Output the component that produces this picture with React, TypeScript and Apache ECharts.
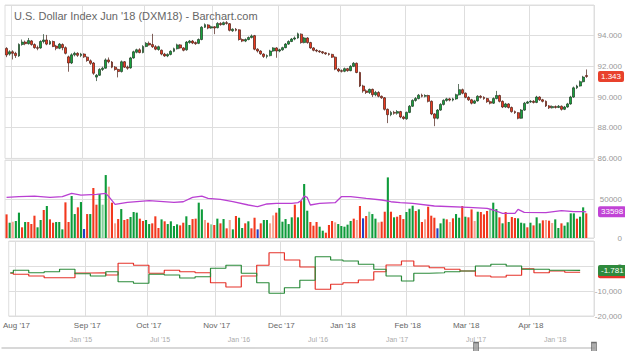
import React, { useEffect, useRef } from "react";
import * as echarts from "echarts";

// ---------- calendar ----------
const HOLIDAYS = ["2017-09-04", "2017-11-23", "2017-12-25", "2018-01-01", "2018-01-15", "2018-02-19", "2018-03-30"];
const FIRST_DAY = [2017, 6, 28];
const LAST_DAY = [2018, 3, 26];
const MONTHS = ["Jan", "Feb", "Mar", "Apr", "May", "Jun", "Jul", "Aug", "Sep", "Oct", "Nov", "Dec"];

function buildDays(): string[] {
  const out: string[] = [];
  const d = new Date(Date.UTC(FIRST_DAY[0], FIRST_DAY[1], FIRST_DAY[2]));
  const end = Date.UTC(LAST_DAY[0], LAST_DAY[1], LAST_DAY[2]);
  while (d.getTime() <= end) {
    const wd = d.getUTCDay();
    const s = d.toISOString().slice(0, 10);
    if (wd !== 0 && wd !== 6 && HOLIDAYS.indexOf(s) < 0) out.push(s);
    d.setUTCDate(d.getUTCDate() + 1);
  }
  return out;
}
const DAYS = buildDays();
const CATS = [...DAYS, " ", "  "];

// ---------- price: [open, close, low, high] ----------
const CANDLES: number[][] = [
  [93.17, 92.74, 92.6, 93.25], [92.8, 92.95, 92.7, 93.05], [92.95, 92.85, 92.45, 93.05], [92.85, 92.7, 92.55, 92.95],
  [92.68, 93.43, 92.62, 93.5], [93.43, 93.58, 93.35, 93.75], [93.58, 93.48, 93.38, 93.68], [93.48, 93.68, 93.42, 93.85],
  [93.66, 93.42, 93.35, 93.72], [93.42, 93.22, 93.15, 93.5], [93.22, 93.18, 93.05, 93.35], [93.2, 93.62, 93.15, 93.7],
  [93.62, 93.72, 93.5, 94.1], [93.72, 93.45, 93.38, 94.05], [93.45, 93.62, 93.4, 93.72], [93.62, 93.3, 93.25, 93.68],
  [93.32, 93.18, 93.05, 93.4], [93.18, 93.45, 93.12, 93.52], [93.42, 93.22, 93.05, 93.5], [93.22, 92.85, 92.78, 93.3],
  [92.62, 92.22, 91.65, 92.7], [92.22, 92.75, 92.15, 92.85], [92.75, 92.85, 92.65, 92.95], [92.85, 92.72, 92.62, 92.92],
  [92.7, 92.8, 92.6, 92.88], [92.8, 92.62, 92.55, 92.85], [92.6, 92.38, 92.3, 92.65], [92.36, 92.2, 92.1, 92.45],
  [92.22, 91.55, 91.45, 92.28], [91.3, 91.42, 91.04, 91.5], [91.42, 91.8, 91.38, 91.88], [91.8, 91.88, 91.7, 91.98],
  [91.88, 92.42, 91.85, 92.52], [92.42, 92.3, 92.2, 92.58], [92.28, 91.95, 91.88, 92.35], [91.95, 91.8, 91.72, 92.02],
  [91.8, 91.66, 91.28, 91.85], [91.66, 92.3, 91.6, 92.38], [92.3, 91.95, 91.9, 92.35], [91.95, 91.88, 91.78, 92.05],
  [91.9, 92.55, 91.85, 92.62], [92.55, 92.95, 92.5, 93.02], [92.92, 93.08, 92.85, 93.15], [93.08, 92.9, 92.85, 93.18],
  [92.9, 93.3, 92.85, 93.38], [93.3, 93.5, 93.25, 93.58], [93.5, 93.4, 93.35, 93.62], [93.42, 93.28, 93.2, 94.12],
  [93.28, 93.12, 93.05, 93.38], [93.1, 93.28, 93.02, 93.35], [93.05, 92.8, 92.72, 93.1], [92.8, 92.68, 92.62, 92.88],
  [92.68, 92.78, 92.6, 92.85], [92.78, 92.98, 92.72, 93.05], [92.98, 93.15, 92.92, 93.22], [93.15, 93.4, 93.1, 93.48],
  [93.4, 93.2, 93.15, 93.45], [93.2, 93.05, 92.98, 93.25], [93.08, 93.58, 93.02, 93.65], [93.55, 93.65, 93.48, 93.72],
  [93.65, 93.52, 93.45, 93.72], [93.55, 93.48, 93.4, 93.62], [93.5, 93.75, 93.45, 93.82], [93.75, 94.55, 93.7, 94.62],
  [94.55, 94.72, 94.5, 94.8], [94.7, 94.5, 94.42, 94.75], [94.5, 94.58, 94.45, 94.65], [94.58, 94.5, 94.1, 94.62],
  [94.52, 94.8, 94.48, 94.88], [94.8, 94.72, 94.65, 94.88], [94.72, 94.85, 94.68, 94.92], [94.85, 94.8, 94.72, 94.95],
  [94.78, 94.35, 94.28, 94.82], [94.32, 94.42, 94.25, 94.48], [94.42, 94.35, 94.28, 94.5], [94.38, 93.75, 93.68, 94.42],
  [93.75, 93.65, 93.58, 93.82], [93.65, 93.75, 93.58, 93.82], [93.75, 93.88, 93.7, 93.95], [93.88, 93.98, 93.82, 94.08],
  [94.0, 93.12, 93.05, 94.05], [93.12, 93.0, 92.9, 93.18], [93.0, 92.82, 92.75, 93.05], [92.8, 92.65, 92.55, 92.85],
  [92.65, 92.7, 92.52, 92.78], [92.7, 93.0, 92.65, 93.08], [93.0, 93.2, 92.95, 93.25], [93.2, 93.0, 92.56, 93.25],
  [93.0, 93.08, 92.92, 93.15], [93.08, 93.22, 93.02, 93.28], [93.22, 93.45, 93.18, 93.52], [93.45, 93.62, 93.4, 93.7],
  [93.62, 93.78, 93.58, 93.85], [93.78, 93.85, 93.7, 93.95], [93.85, 94.12, 93.8, 94.2], [94.1, 93.55, 93.48, 94.15],
  [93.55, 93.85, 93.5, 93.92], [93.85, 93.55, 93.48, 93.9], [93.55, 93.2, 93.15, 93.6], [93.2, 93.05, 92.98, 93.25],
  [93.05, 93.0, 92.92, 93.12], [93.0, 92.95, 92.88, 93.05], [92.95, 92.88, 92.8, 93.0], [92.88, 92.82, 92.75, 92.92],
  [92.82, 92.78, 92.7, 92.88], [92.78, 92.6, 92.55, 92.82], [92.6, 91.82, 91.75, 92.65], [91.82, 91.7, 91.62, 91.9],
  [91.72, 91.68, 91.6, 91.8], [91.68, 91.85, 91.62, 91.92], [91.85, 91.72, 91.65, 91.9], [91.72, 92.0, 91.68, 92.08],
  [92.0, 92.2, 91.95, 92.28], [92.2, 91.6, 91.55, 92.25], [91.6, 90.72, 90.65, 91.65], [90.72, 90.4, 90.28, 90.8],
  [90.4, 90.3, 90.2, 90.5], [90.3, 90.5, 90.2, 90.55], [90.5, 90.15, 90.0, 90.55], [90.15, 90.3, 90.05, 90.4],
  [90.3, 90.05, 89.98, 90.38], [90.05, 89.95, 89.88, 90.1], [89.95, 89.2, 89.12, 90.0], [89.2, 88.85, 88.3, 89.25],
  [88.85, 89.0, 88.75, 89.1], [89.0, 88.95, 88.85, 89.1], [88.95, 89.05, 88.85, 89.15], [89.05, 88.7, 88.62, 89.1],
  [88.7, 88.6, 88.52, 88.78], [88.58, 89.0, 88.52, 89.05], [89.0, 89.4, 88.95, 89.48], [89.4, 89.78, 89.35, 89.85],
  [89.78, 89.9, 89.7, 90.0], [89.9, 90.12, 89.85, 90.2], [90.12, 90.05, 89.98, 90.22], [90.05, 90.1, 89.98, 90.18],
  [90.1, 89.72, 89.65, 90.15], [89.72, 88.9, 88.82, 89.78], [88.9, 88.62, 88.1, 88.95], [88.62, 89.15, 88.55, 89.22],
  [89.15, 89.52, 89.1, 89.6], [89.52, 89.78, 89.45, 89.85], [89.78, 89.88, 89.7, 89.95], [89.88, 89.8, 89.72, 89.95],
  [89.8, 89.88, 89.72, 89.95], [89.88, 90.15, 89.82, 90.22], [90.15, 90.48, 90.1, 90.85], [90.48, 90.25, 90.18, 90.55],
  [90.25, 89.98, 89.92, 90.3], [89.98, 89.82, 89.75, 90.05], [89.82, 89.6, 89.52, 89.88], [89.6, 89.75, 89.55, 89.82],
  [89.75, 90.05, 89.7, 90.12], [90.05, 89.98, 89.9, 90.12], [89.98, 89.9, 89.82, 90.05], [89.9, 89.7, 89.62, 89.95],
  [89.7, 89.6, 89.52, 89.78], [89.6, 89.9, 89.55, 89.98], [89.9, 90.1, 89.85, 90.4], [90.1, 89.72, 89.65, 90.15],
  [89.72, 89.35, 89.28, 89.78], [89.35, 89.55, 89.3, 89.62], [89.55, 89.32, 89.25, 89.6], [89.32, 89.05, 88.98, 89.38],
  [89.05, 88.98, 88.9, 89.12], [88.98, 88.62, 88.55, 89.02], [88.62, 89.15, 88.58, 89.22], [89.15, 89.6, 89.1, 89.68],
  [89.6, 89.68, 89.55, 89.75], [89.68, 89.72, 89.62, 89.8], [89.72, 89.65, 89.58, 89.8], [89.65, 90.0, 89.6, 90.08],
  [90.0, 89.82, 89.75, 90.05], [89.82, 89.72, 89.65, 89.88], [89.72, 89.42, 89.35, 89.78], [89.42, 89.3, 89.22, 89.48],
  [89.3, 89.38, 89.25, 89.45], [89.38, 89.32, 89.25, 89.45], [89.32, 89.4, 89.28, 89.48], [89.4, 89.2, 89.12, 89.45],
  [89.2, 89.35, 89.15, 89.42], [89.35, 89.55, 89.3, 89.62], [89.55, 90.0, 89.5, 90.08], [90.0, 90.6, 89.95, 90.68],
  [90.6, 90.72, 90.52, 90.8], [90.72, 91.0, 90.68, 91.08], [91.0, 91.3, 90.95, 91.38], [91.4, 91.343, 91.25, 91.8],
];
const LAST_PRICE = 91.343;

// ---------- volume ----------
const VOLUME = [
  30300, 19600, 20900, 21800, 32500, 13700, 20500, 20500, 17900, 28600,
  13700, 23100, 35900, 41000, 23900, 19600, 20500, 20500, 11100, 45700,
  20500, 53800, 30700, 39300, 46100, 11500, 30700, 30700, 64100, 42700,
  56400, 42700, 80700, 65800, 45300, 18800, 24300, 37100, 23100, 24300,
  26900, 33300, 32500, 24800, 21800, 23100, 17900, 18800, 27800, 12800,
  23900, 21400, 17900, 21400, 15400, 17500, 16200, 19600, 27800, 16700,
  24300, 24800, 45300, 36700, 23100, 19600, 17500, 16700, 24800, 18800,
  24300, 12400, 23100, 11100, 28200, 26000, 12800, 18800, 21400, 12400,
  26000, 11100, 18800, 23100, 23100, 18800, 29000, 32500, 38400, 20900,
  24300, 17900, 26500, 42700, 26500,
  47800, 69200, 35000, 20500, 15800, 20500, 14500, 9400, 6800, 16700,
  21800, 20100, 17900, 15400, 14500, 17100, 21800, 24800, 23100, 41000,
  25200, 28200, 33700, 30700, 24800, 20100, 20900, 33700, 77700, 33700,
  26500, 27300, 29500, 24300, 33300, 37600, 41400, 34600, 36700, 20500,
  23900, 40100, 28600, 26000, 12400, 18800, 24800, 23900, 20500, 25200,
  30700, 26000, 41000, 27300, 26500, 36700, 21800, 33700, 33300, 30300,
  34600, 36700, 45300, 37100, 26500, 18800, 33300, 20500, 26900, 25600,
  25200, 19600, 18800, 13700, 19600, 16200, 26500, 18800, 22600, 23100,
  22200, 19200, 23900, 12800, 18800, 15800, 20100, 31600, 31600, 24800,
  27300, 39300, 31600,
];
// g up, r down, G light up, R light down, b unchanged
const VOLUME_KIND =
  "rgRggrgrrr" + "ggrgrrgggr" + "rggrgbrgrr" + "gGgRrRrgrr" + "gggrrggrrr" +
  "grggggrrgg" + "rrggRrGrgr" + "grRgrggrgr" + "rbrggRRrgg" + "gggrg" +
  "rggrrrggrr" + "rRgggggrRr" + "brGggRrrgr" + "grrrgggrgr" + "RrrrbggrRr" +
  "ggrgrrRgrr" + "rGggrgrgrr" + "gggrgrggrR" + "rRggrggggr" + "ggr";

// volume moving average: [day index, value]
const VOLUME_AVG: number[][] = [
  [0, 52000], [4, 53000], [9, 53800], [14, 52000], [18, 53000], [21, 57200], [24, 55000], [29, 56000],
  [32, 57200], [33, 53000], [35, 43100], [39, 45700], [46, 47800], [54, 45700], [57, 46500], [60, 52000],
  [63, 53800], [65, 50800], [69, 49500], [73, 46500], [78, 42300], [81, 40100], [84, 43600], [87, 44400],
  [92, 44400], [94, 45300], [95, 47800], [96, 53800], [97, 52000], [98, 42300], [101, 44400], [106, 45300],
  [108, 53000], [111, 53000], [116, 50800], [121, 48700], [124, 46500], [127, 45300], [131, 44400],
  [138, 41000], [149, 39300], [155, 38000], [157, 35900], [160, 31600], [164, 31600], [165, 36700],
  [167, 32900], [174, 32500], [179, 35000], [183, 33700], [186, 33700], [187, 33598],
];
const LAST_VOLUME_AVG = 33598;

// ---------- weekly net positions ----------
const WEEK_START = [0, 1, 6, 11, 16, 21, 26, 31, 35, 40, 45, 50, 55, 60, 65, 70, 75, 80, 84, 89, 94, 99,
  104, 108, 113, 118, 122, 127, 131, 136, 141, 146, 151, 156, 161, 166, 170, 175, 180];
const WEEK_END = 185;
const NET_GREEN = [-2700, -1700, -2700, -2300, -1300, -3100, -4000, -2300, -6300, -6900, -3300, -3600, -4800,
  -4300, -900, 300, -2900, -6700, -10900, -8700, -5700, 3700, 2400, 2000, 700, -1300, -4000, -6000, -2900,
  -2700, -2300, -2000, 0, 700, 0, -1300, -1300, -1700, -1781];
const NET_RED = [-2900, -3300, -4000, -4700, -4700, -2800, -2700, -3600, 1100, 300, -2900, -1700, -2300,
  -2700, -6700, -8400, -4000, 300, 5300, 2400, -400, -9300, -7300, -6700, -5600, -2300, 400, 2000, 0,
  -700, -1300, -2000, -4000, -4400, -3700, -1100, -2700, -2000, -2500];

// ---------- navigator (months since Jan 2015) ----------
const NAV_LABELS: Record<number, string> = { 0: "Jan '15", 6: "Jul '15", 12: "Jan '16", 18: "Jul '16", 24: "Jan '17", 30: "Jul '17", 36: "Jan '18" };
const NAV_HANDLES = [30.0, 38.95];

const FONT = "Liberation Sans";
const GRID_COLOR = "#dedede";
const KIND_COLOR: Record<string, string> = { g: "#0e9b3a", r: "#f2381e", G: "#86d29c", R: "#f7a392", b: "#2340c4" };

function monthLabel(s: string) {
  return MONTHS[parseInt(s.slice(5, 7), 10) - 1] + " '" + s.slice(2, 4);
}
function isMonthStart(i: number) {
  return i > 0 && i < DAYS.length && DAYS[i].slice(0, 7) !== DAYS[i - 1].slice(0, 7);
}
function fmtThousands(v: number) {
  const s = Math.abs(v).toString().replace(/\B(?=(\d{3})+(?!\d))/g, ",");
  return (v < 0 ? "-" : "") + s;
}
function stepData(vals: number[]) {
  const d = WEEK_START.map((w, i) => [w, vals[i]]);
  d.push([WEEK_END, vals[vals.length - 1]]);
  return d;
}
function tag(value: number, text: string, bg: string, extra: any = {}) {
  return {
    silent: true,
    symbol: ["none", "none"],
    lineStyle: { color: "rgba(0,0,0,0)", width: 0 },
    label: {
      show: true, position: "end", distance: 4, formatter: text, color: "#fff", backgroundColor: bg,
      padding: [2, 3, 1, 3], borderRadius: 2, fontSize: 8, fontFamily: FONT, ...extra,
    },
    data: [{ yAxis: value }],
  };
}

const catAxis = (gridIndex: number, labels: boolean) => ({
  type: "category",
  gridIndex,
  data: CATS,
  boundaryGap: true,
  axisLine: { show: false },
  axisTick: { show: false },
  axisLabel: labels
    ? { show: true, interval: (i: number) => isMonthStart(i), formatter: (v: string) => monthLabel(v), fontSize: 8, color: "#666", margin: 5, fontFamily: FONT }
    : { show: false },
  splitLine: { show: true, interval: (i: number) => isMonthStart(i), lineStyle: { color: GRID_COLOR, width: 1 } },
});

const valAxisLabel = (formatter: (v: number) => string) => ({
  formatter, fontSize: 8, color: "#999", align: "right", margin: 28, showMaxLabel: false, fontFamily: FONT,
});

export default function App() {
  const ref = useRef<HTMLDivElement>(null);
  useEffect(() => {
    if (!ref.current) return;
    document.body.style.margin = "0";
    const chart = echarts.init(ref.current, undefined, { renderer: "svg" });
    const gridBase = { left: 5, right: 31, show: true, borderColor: GRID_COLOR, borderWidth: 1, containLabel: false };
    chart.setOption({
      animation: false,
      backgroundColor: "#fff",
      textStyle: { fontFamily: FONT },
      title: {
        text: "U.S. Dollar Index Jun '18 (DXM18) - Barchart.com",
        left: 14, top: 10, padding: 0,
        textStyle: { fontSize: 11, color: "#666", fontWeight: "normal", fontFamily: FONT },
      },
      grid: [
        { ...gridBase, top: 5, height: 153.4 },
        { ...gridBase, top: 160, height: 78 },
        { ...gridBase, top: 241, height: 75 },
        { left: 2, right: 30.4, top: 347, height: 1, show: false },
      ],
      xAxis: [
        catAxis(0, false),
        catAxis(1, false),
        catAxis(2, true),
        {
          type: "value", gridIndex: 3, min: -6, max: 39, interval: 6, position: "top",
          axisLine: { show: true, lineStyle: { color: "#ccc", width: 1.5 } },
          axisTick: { show: false }, splitLine: { show: false },
          axisLabel: { formatter: (v: number) => NAV_LABELS[v] || "", fontSize: 7, color: "#aaa", margin: 4, showMinLabel: false, showMaxLabel: false, fontFamily: FONT },
        },
      ],
      yAxis: [
        {
          type: "value", gridIndex: 0, position: "right", min: 86, max: 96, interval: 2,
          axisLine: { show: false }, axisTick: { show: false },
          axisLabel: valAxisLabel((v) => v.toFixed(3)),
          splitLine: { lineStyle: { color: GRID_COLOR } },
        },
        {
          type: "value", gridIndex: 1, position: "right", min: 0, max: 100000, interval: 50000,
          axisLine: { show: false }, axisTick: { show: false },
          axisLabel: valAxisLabel((v) => String(v)),
          splitLine: { lineStyle: { color: GRID_COLOR } },
        },
        {
          type: "value", gridIndex: 2, position: "right", min: -20000, max: 10000, interval: 10000,
          axisLine: { show: false }, axisTick: { show: false },
          axisLabel: valAxisLabel((v) => fmtThousands(v)),
          splitLine: { lineStyle: { color: GRID_COLOR } },
        },
        { type: "value", gridIndex: 3, min: 0, max: 1, show: false },
      ],
      series: [
        {
          type: "candlestick", xAxisIndex: 0, yAxisIndex: 0, data: CANDLES, barWidth: 2.4,
          itemStyle: { color: "#17a33d", color0: "#ee3a1f", borderColor: "#1d3b22", borderColor0: "#4a1c14", borderWidth: 0.7 },
          markLine: tag(LAST_PRICE, "1.343", "#e8412c"),
        },
        {
          type: "bar", xAxisIndex: 1, yAxisIndex: 1, barWidth: 2.1,
          data: VOLUME.map((v, i) => ({ value: v, itemStyle: { color: KIND_COLOR[VOLUME_KIND[i]] } })),
        },
        {
          type: "line", xAxisIndex: 1, yAxisIndex: 1, data: VOLUME_AVG, symbol: "none",
          lineStyle: { color: "#b93fd2", width: 1.3 },
          markLine: tag(LAST_VOLUME_AVG, "33598", "#c143d6"),
        },
        {
          type: "line", xAxisIndex: 2, yAxisIndex: 2, data: stepData(NET_RED), step: "end", symbol: "none",
          lineStyle: { color: "#e5332a", width: 1.2 },
          markLine: tag(NET_RED[NET_RED.length - 1], " ", "#e5332a", { width: 24, height: 9 }),
        },
        {
          type: "line", xAxisIndex: 2, yAxisIndex: 2, data: stepData(NET_GREEN), step: "end", symbol: "none",
          lineStyle: { color: "#2a8a3a", width: 1.2 },
          markLine: tag(NET_GREEN[NET_GREEN.length - 1], "-1.781", "#2f8a3d"),
        },
        {
          type: "scatter", xAxisIndex: 3, yAxisIndex: 3, data: NAV_HANDLES.map((m) => [m, 0.5]),
          symbol: "rect", symbolSize: [5, 10],
          itemStyle: { color: "#999", borderColor: "#555", borderWidth: 1 },
        },
      ],
    });
    return () => chart.dispose();
  }, []);
  return <div ref={ref} style={{ position: "fixed", left: 0, top: 0, width: 625, height: 351 }} />;
}
